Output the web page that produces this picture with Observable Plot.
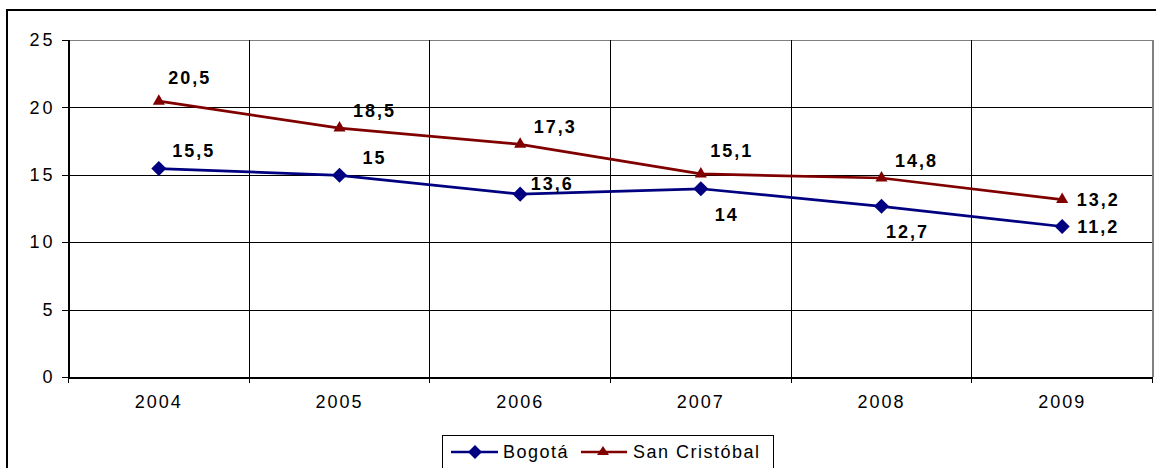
<!DOCTYPE html>
<html><head><meta charset="utf-8">
<script src="https://cdn.jsdelivr.net/npm/d3@7"></script>
<script src="https://cdn.jsdelivr.net/npm/@observablehq/plot@0.6"></script>
<style>
body{margin:0;background:#fff;overflow:hidden;font-family:"Liberation Sans",Arial,sans-serif;}
#wrap{position:relative;width:1156px;height:468px;overflow:hidden;background:#fff;}
#frame{position:absolute;left:6px;top:9px;width:1250px;height:560px;border:2px solid #000;box-sizing:border-box;pointer-events:none;z-index:2;}
#chart svg{display:block;background:transparent;}
#chart svg text{letter-spacing:2px;}
#chart svg g[aria-label="y-axis tick label"] text{letter-spacing:3px;}
#chart svg g[aria-label="rule"] line,
#chart svg g[aria-label$="tick"] path{shape-rendering:crispEdges;}
#legend{margin-left:442px;margin-top:1px;width:332px;height:44px;border:1px solid #000;box-sizing:border-box;display:flex;align-items:flex-start;padding-top:6px;padding-left:7px;font-size:18px;letter-spacing:1.5px;line-height:20px;color:#000;}
#legend .item{display:flex;align-items:center;}
#legend svg{display:block;}
</style>
</head><body>
<div id="wrap"><div id="frame"></div><div id="chart"></div>
<div id="legend"></div></div>
<script>
const years = ["2004","2005","2006","2007","2008","2009"];
const bogota = [15.5, 15, 13.6, 14, 12.7, 11.2];
const sanCristobal = [20.5, 18.5, 17.3, 15.1, 14.8, 13.2];
const bogotaLabelPos = ["above","above","nearAbove","below","below","right"];
const sanCristobalLabelPos = ["farAbove","above","above","farAbove","above","right"];
const seriesNames = ["Bogotá","San Cristóbal"];
const seriesColors = ["#000080","#800000"];
const yTicks = [0,5,10,15,20,25];

const rows = [];
years.forEach((yr,i)=>{
  rows.push({i, year:yr, serie:"Bogotá", v:bogota[i], pos:bogotaLabelPos[i]});
  rows.push({i, year:yr, serie:"San Cristóbal", v:sanCristobal[i], pos:sanCristobalLabelPos[i]});
});
const offsets = {above:[35,-17], farAbove:[31,-23], nearAbove:[32,-10], below:[26,26], right:[36,1]};
const fmt = v => String(v).replace(".", ",");
const centers = years.map((_,i)=>i);
const bounds = d3.range(years.length+1).map(i=>i-0.5);

const labelMarks = Object.entries(offsets).map(([k,[dx,dy]]) =>
  Plot.text(rows.filter(d=>d.pos===k), {x:"i", y:"v", text:d=>fmt(d.v), dx, dy,
    fontWeight:"bold", fontSize:18, fill:"#000"}));

const chart = Plot.plot({
  width:1156, height:434,
  marginTop:40, marginBottom:57, marginLeft:68, marginRight:4,
  style:{background:"transparent", fontFamily:"'Liberation Sans', Arial, sans-serif", color:"#000"},
  x:{type:"linear", domain:[-0.5, years.length-0.5], axis:null},
  y:{domain:[0,25], axis:null},
  color:{domain:seriesNames, range:seriesColors},
  marks:[
    Plot.ruleY([5,10,15,20], {stroke:"#000", strokeWidth:1}),
    Plot.ruleY([25], {stroke:"#808080", strokeWidth:1.5}),
    Plot.ruleX(bounds.slice(1,-1), {stroke:"#000", strokeWidth:1}),
    Plot.ruleX([bounds[bounds.length-1]], {stroke:"#808080", strokeWidth:2}),
    Plot.axisY(yTicks, {tickSize:6, tickPadding:7, fontSize:18, label:null, stroke:"#000"}),
    Plot.axisX(centers, {tickSize:0, tickPadding:18, fontSize:18, label:null, tickFormat:i=>years[i]}),
    Plot.axisX(bounds, {tickSize:6, label:null, tickFormat:()=>"" , stroke:"#000"}),
    Plot.ruleX([bounds[0]], {stroke:"#000", strokeWidth:2}),
    Plot.ruleY([0], {stroke:"#000", strokeWidth:2}),
    Plot.line(rows, {x:"i", y:"v", z:"serie", stroke:"serie", strokeWidth:2.7}),
    Plot.dot(rows.filter(d=>d.serie==="Bogotá"), {x:"i", y:"v", symbol:"diamond2", r:6.8, fill:seriesColors[0], stroke:"none"}),
    Plot.dot(rows.filter(d=>d.serie==="San Cristóbal"), {x:"i", y:"v", symbol:"triangle", r:4.5, fill:seriesColors[1], stroke:"none"}),
    ...labelMarks
  ]
});
document.getElementById("chart").appendChild(chart);

const legend = document.getElementById("legend");
legend.innerHTML = `
<div class="item"><svg width="48" height="20"><line x1="1" y1="10" x2="48" y2="10" stroke="${seriesColors[0]}" stroke-width="2.5"/><path d="M25,3 L32,10 L25,17 L18,10 Z" fill="${seriesColors[0]}"/></svg><span style="margin-left:5px">${seriesNames[0]}</span></div>
<div class="item" style="margin-left:12px"><svg width="46" height="20"><line x1="0" y1="10" x2="46" y2="10" stroke="${seriesColors[1]}" stroke-width="2.5"/><path d="M22,4 L28,13 L16,13 Z" fill="${seriesColors[1]}"/></svg><span style="margin-left:6px">${seriesNames[1]}</span></div>`;
</script>
</body></html>
